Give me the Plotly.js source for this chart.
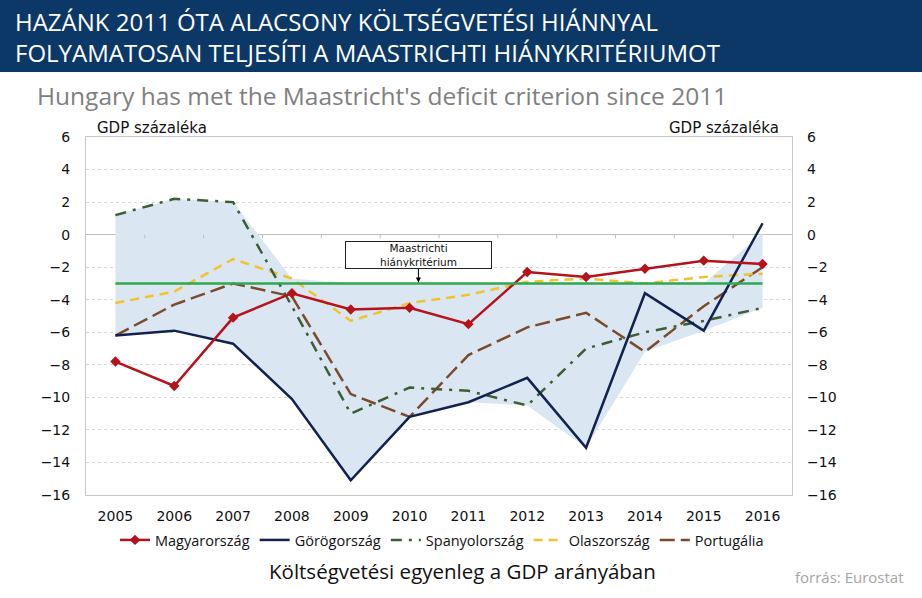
<!DOCTYPE html>
<html><head><meta charset="utf-8">
<script src="https://cdn.plot.ly/plotly-3.0.1.min.js"></script>
<style>html,body{margin:0;padding:0;background:#fff}#chart{width:922px;height:598px}</style>
</head><body><div id="chart"></div>
<script>
const years = [2005, 2006, 2007, 2008, 2009, 2010, 2011, 2012, 2013, 2014, 2015, 2016];
const hungary  = [-7.8, -9.3, -5.1, -3.6, -4.6, -4.5, -5.5, -2.3, -2.6, -2.1, -1.6, -1.8];
const greece   = [-6.2, -5.9, -6.7, -10.1, -15.1, -11.2, -10.3, -8.8, -13.1, -3.6, -5.9, 0.7];
const spain    = [1.2, 2.2, 2.0, -4.4, -11.0, -9.4, -9.6, -10.5, -7.0, -6.0, -5.3, -4.5];
const italy    = [-4.2, -3.5, -1.5, -2.7, -5.3, -4.2, -3.7, -2.9, -2.7, -3.0, -2.6, -2.4];
const portugal = [-6.2, -4.3, -3.0, -3.8, -9.8, -11.2, -7.4, -5.7, -4.8, -7.2, -4.4, -2.0];
const bandTop    = [1.2, 2.2, 2.0, -2.7, -3.0, -3.0, -3.0, -3.0, -3.0, -3.0, -3.0, 0.1];
const bandBottom = [-6.2, -5.9, -6.7, -10.1, -15.1, -11.2, -10.3, -10.5, -13.1, -7.2, -5.9, -4.5];
const maastricht = [-3, -3, -3, -3, -3, -3, -3, -3, -3, -3, -3, -3];
const yTicks = [6, 4, 2, 0, -2, -4, -6, -8, -10, -12, -14, -16];

const seriesNames = ['Magyarország', 'Görögország', 'Spanyolország', 'Olaszország', 'Portugália'];

// pixel -> paper helpers (plot area 86..792 x 137..495)
const L = 86, R = 792, T = 137, B = 495;
const px = x => (x - L) / (R - L);
const py = y => (B - y) / (B - T);

const tickFont = {family: 'DejaVu Sans', size: 14, color: '#111'};

const traces = [
  {x: years, y: bandBottom, mode: 'lines', line: {width: 0, color: 'rgba(0,0,0,0)'}, showlegend: false, hoverinfo: 'skip'},
  {x: years, y: bandTop, mode: 'lines', fill: 'tonexty', fillcolor: '#dbe6f3', line: {width: 0, color: 'rgba(0,0,0,0)'}, showlegend: false, hoverinfo: 'skip'},
  {x: years, y: maastricht, mode: 'lines', line: {color: '#2da84f', width: 2.5}, showlegend: false, yaxis: 'y2'},
  {x: years, y: portugal, name: seriesNames[4], legendrank: 5, mode: 'lines', line: {color: '#7b4a2c', width: 2.5, dash: '15px,6px'}},
  {x: years, y: italy, name: seriesNames[3], legendrank: 4, mode: 'lines', line: {color: '#f2c330', width: 2.5, dash: '9px,6px'}},
  {x: years, y: spain, name: seriesNames[2], legendrank: 3, mode: 'lines', line: {color: '#3d5e35', width: 2.5, dash: '11px,7px,3px,7px'}},
  {x: years, y: greece, name: seriesNames[1], legendrank: 2, mode: 'lines', line: {color: '#12224f', width: 2.5}},
  {x: years, y: hungary, name: seriesNames[0], legendrank: 1, mode: 'lines+markers', line: {color: '#b5121b', width: 2.5}, marker: {symbol: 'diamond', size: 8, color: '#b5121b'}}
];

// small category tick marks on the zero line, between years
const shapes = [];
for (let i = 0; i < years.length - 1; i++) {
  const xm = (years[i] + years[i + 1]) / 2;
  shapes.push({type: 'line', xref: 'x', yref: 'y', x0: xm, x1: xm, y0: 0, y1: -0.22, line: {color: '#bfbfbf', width: 1}});
}
// title banner
shapes.push({type: 'rect', xref: 'paper', yref: 'paper', x0: px(0), x1: px(922), y0: py(0), y1: py(72), fillcolor: '#0c3868', line: {width: 0}, layer: 'below'});

const annotations = [
  {xref: 'paper', yref: 'paper', x: px(13), y: py(37), xanchor: 'left', yanchor: 'middle', align: 'left', showarrow: false,
   text: 'HAZÁNK 2011 ÓTA ALACSONY KÖLTSÉGVETÉSI HIÁNNYAL<br>FOLYAMATOSAN TELJESÍTI A MAASTRICHTI HIÁNYKRITÉRIUMOT',
   font: {family: 'Open Sans', size: 24, color: '#ffffff'}},
  {xref: 'paper', yref: 'paper', x: px(35), y: py(95), xanchor: 'left', yanchor: 'middle', showarrow: false,
   text: "Hungary has met the Maastricht's deficit criterion since 2011", font: {family: 'Open Sans', size: 24.5, color: '#808080'}},
  {xref: 'paper', yref: 'paper', x: px(95), y: py(128), xanchor: 'left', yanchor: 'middle', showarrow: false,
   text: 'GDP százaléka', font: {family: 'DejaVu Sans', size: 15, color: '#111'}},
  {xref: 'paper', yref: 'paper', x: px(781), y: py(128), xanchor: 'right', yanchor: 'middle', showarrow: false,
   text: 'GDP százaléka', font: {family: 'DejaVu Sans', size: 15, color: '#111'}},
  {xref: 'x', yref: 'y', x: 2010.15, y: -3, ax: 0, ay: -28, axref: 'pixel', ayref: 'pixel',
   showarrow: true, arrowhead: 2, arrowsize: 1, arrowwidth: 1, arrowcolor: '#000', standoff: 1,
   text: 'Maastrichti<br>hiánykritérium', font: {family: 'DejaVu Sans', size: 10.5, color: '#111'},
   bgcolor: '#ffffff', bordercolor: '#222', borderwidth: 1, borderpad: 1, width: 143, height: 24},
  {xref: 'paper', yref: 'paper', x: px(462), y: py(571), xanchor: 'center', yanchor: 'middle', showarrow: false,
   text: 'Költségvetési egyenleg a GDP arányában', font: {family: 'Open Sans', size: 20.5, color: '#111'}},
  {xref: 'paper', yref: 'paper', x: px(906), y: py(577), xanchor: 'right', yanchor: 'middle', showarrow: false,
   text: 'forrás: Eurostat', font: {family: 'Open Sans', size: 15, color: '#a6a6a6'}}
];

const layout = {
  width: 922, height: 598,
  margin: {l: L, r: 922 - R, t: T, b: 598 - B, pad: 0},
  paper_bgcolor: '#ffffff', plot_bgcolor: '#ffffff',
  showlegend: true,
  legend: {orientation: 'h', traceorder: 'normal', x: px(442), xanchor: 'center', y: py(540), yanchor: 'middle',
           font: {family: 'Open Sans', size: 14.5, color: '#111'}, itemwidth: 30, tracegroupgap: 0, bgcolor: 'rgba(0,0,0,0)'},
  xaxis: {range: [2004.5, 2016.5], tickvals: years, ticktext: years.map(String), tickfont: tickFont,
          showgrid: false, zeroline: false, showline: true, mirror: true, linecolor: '#c8c8c8', linewidth: 1,
          ticks: '', ticklabelstandoff: 8, fixedrange: true},
  yaxis: {range: [-16, 6], tickvals: yTicks, tickfont: tickFont, showgrid: true, gridcolor: '#d9d9d9', griddash: 'dot',
          zeroline: true, zerolinecolor: '#bfbfbf', zerolinewidth: 1, showline: true, mirror: true, linecolor: '#c8c8c8',
          ticks: '', ticklabelstandoff: 12, fixedrange: true},
  yaxis2: {range: [-16, 6], tickvals: yTicks, tickfont: tickFont, overlaying: 'y', side: 'right', showgrid: false,
           zeroline: false, showline: false, ticks: '', ticklabelstandoff: 14, fixedrange: true},
  shapes: shapes,
  annotations: annotations
};

Plotly.newPlot('chart', traces, layout, {displayModeBar: false, staticPlot: true});
</script>
</body></html>
